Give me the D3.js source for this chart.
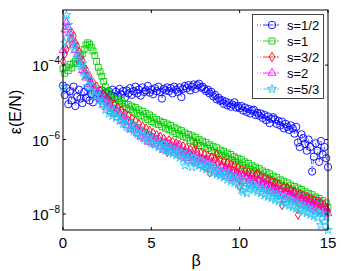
<!DOCTYPE html>
<html>
<head>
<meta charset="UTF-8" />
<script src="https://cdn.jsdelivr.net/npm/d3@7"></script>
<style>
  body { margin: 0; background: #fff; }
  text { font-family: "Liberation Sans", Arial, sans-serif; }
</style>
</head>
<body>
<script>
// beta grid
var beta = [
  0,0.1,0.2,0.3,0.4,0.5,0.6,0.7,0.8,0.9,1,1.1,1.2,1.3,1.4,1.5,1.6,1.7,1.8,1.9,
  2,2.1,2.2,2.3,2.4,2.5,2.6,2.7,2.8,2.9,3,3.1,3.2,3.3,3.4,3.5,3.6,3.7,3.8,3.9,
  4,4.1,4.2,4.3,4.4,4.5,4.6,4.7,4.8,4.9,5,5.1,5.2,5.3,5.4,5.5,5.6,5.7,5.8,5.9,
  6,6.1,6.2,6.3,6.4,6.5,6.6,6.7,6.8,6.9,7,7.1,7.2,7.3,7.4,7.5,7.6,7.7,7.8,7.9,
  8,8.1,8.2,8.3,8.4,8.5,8.6,8.7,8.8,8.9,9,9.1,9.2,9.3,9.4,9.5,9.6,9.7,9.8,9.9,
  10,10.1,10.2,10.3,10.4,10.5,10.6,10.7,10.8,10.9,11,11.1,11.2,11.3,11.4,11.5,11.6,11.7,11.8,11.9,
  12,12.1,12.2,12.3,12.4,12.5,12.6,12.7,12.8,12.9,13,13.1,13.2,13.3,13.4,13.5,13.6,13.7,13.8,13.9,
  14,14.1,14.2,14.3,14.4,14.5,14.6,14.7,14.8,14.9,15
];

// log10 of eps(E/N)
var s_half = [
  -4.55,-4.80,-4.62,-5.05,-4.70,-4.95,-4.58,-5.10,-4.85,-4.66,
  -4.90,-5.02,-4.72,-4.88,-4.60,-4.95,-4.78,-5.00,-4.70,-4.85,
  -4.76,-4.90,-4.68,-4.82,-4.74,-4.95,-4.70,-4.80,-4.66,-4.86,
  -4.72,-4.84,-4.64,-4.78,-4.70,-4.88,-4.68,-4.76,-4.62,-4.80,
  -4.70,-4.58,-4.76,-4.66,-4.82,-4.60,-4.72,-4.68,-4.56,-4.74,
  -4.66,-4.78,-4.62,-4.70,-4.58,-4.72,-4.90,-4.64,-4.68,-4.60,
  -4.70,-4.62,-4.76,-4.58,-4.66,-4.72,-4.60,-4.86,-4.64,-4.56,
  -4.62,-4.54,-4.68,-4.58,-4.52,-4.64,-4.54,-4.50,-4.60,-4.58,
  -4.64,-4.70,-4.66,-4.76,-4.72,-4.84,-4.80,-4.92,-4.88,-4.96,
  -4.94,-5.04,-4.98,-5.08,-5.02,-5.12,-5.06,-5.00,-5.14,-5.10,
  -5.16,-5.10,-5.22,-5.14,-5.26,-5.18,-5.30,-5.22,-5.20,-5.34,
  -5.28,-5.36,-5.30,-5.42,-5.34,-5.48,-5.38,-5.56,-5.44,-5.40,
  -5.46,-5.58,-5.50,-5.62,-5.52,-5.70,-5.58,-5.66,-5.74,-5.62,
  -5.70,-5.84,-5.66,-6.08,-6.20,-5.86,-5.96,-6.12,-6.30,-6.00,
  -6.20,-6.86,-6.46,-6.10,-6.30,-6.60,-6.04,-6.40,-6.20,-6.50,
  -6.74
];
var s_one = [
  -4.10,-4.22,-4.05,-4.15,-3.98,-4.08,-3.95,-3.90,-3.96,-3.84,
  -3.76,-3.70,-3.58,-3.46,-3.40,-3.44,-3.52,-3.62,-3.74,-3.90,
  -4.06,-4.18,-4.30,-4.44,-4.58,-4.70,-4.76,-4.84,-4.88,-4.92,
  -5.00,-4.90,-5.06,-4.96,-5.12,-5.02,-5.16,-5.06,-5.20,-5.10,
  -5.26,-5.14,-5.30,-5.20,-5.36,-5.24,-5.40,-5.30,-5.46,-5.34,
  -5.52,-5.40,-5.56,-5.46,-5.60,-5.50,-5.66,-5.54,-5.70,-5.58,
  -5.74,-5.62,-5.78,-5.68,-5.84,-5.72,-5.88,-5.76,-5.92,-5.82,
  -5.96,-5.86,-6.02,-5.90,-6.06,-5.94,-6.10,-6.00,-6.16,-6.04,
  -6.20,-6.08,-6.24,-6.14,-6.30,-6.18,-6.34,-6.22,-6.38,-6.28,
  -6.42,-6.32,-6.46,-6.36,-6.52,-6.40,-6.56,-6.46,-6.60,-6.50,
  -6.66,-6.54,-6.70,-6.60,-6.76,-6.64,-6.80,-6.70,-6.84,-6.74,
  -6.90,-6.78,-6.94,-6.84,-7.00,-6.88,-7.04,-6.92,-7.08,-6.98,
  -7.14,-7.02,-7.18,-7.08,-7.24,-7.12,-7.28,-7.16,-7.32,-7.22,
  -7.36,-7.26,-7.40,-7.30,-7.46,-7.34,-7.50,-7.40,-7.56,-7.44,
  -7.60,-7.48,-7.64,-7.54,-7.70,-7.58,-7.74,-7.64,-7.80,-7.70,
  -7.82
];
var s_3half = [
  -3.90,-3.70,-3.58,-3.44,-3.30,-3.14,-3.22,-3.40,-3.50,-3.64,
  -3.80,-3.88,-4.08,-4.12,-4.32,-4.30,-4.50,-4.46,-4.66,-4.58,
  -4.76,-4.68,-4.88,-4.80,-5.00,-4.90,-5.10,-4.98,-5.18,-5.06,
  -5.24,-5.14,-5.32,-5.22,-5.40,-5.30,-5.48,-5.36,-5.54,-5.44,
  -5.62,-5.50,-5.70,-5.58,-5.76,-5.64,-5.82,-5.70,-5.88,-5.76,
  -5.94,-5.82,-6.00,-5.88,-6.06,-5.92,-6.10,-5.98,-6.06,-6.34,
  -6.02,-6.18,-6.06,-6.24,-6.10,-6.28,-6.14,-6.32,-6.18,-6.36,
  -6.22,-6.40,-6.26,-6.44,-6.30,-6.12,-6.34,-6.48,-6.36,-6.52,
  -6.40,-6.56,-6.44,-6.88,-6.48,-6.60,-6.52,-6.40,-6.64,-6.56,
  -6.70,-6.58,-6.74,-6.62,-6.80,-6.66,-6.84,-6.70,-6.88,-6.74,
  -7.26,-6.80,-6.96,-6.84,-7.00,-6.88,-7.04,-6.92,-7.08,-6.96,
  -6.92,-7.12,-7.00,-7.18,-7.04,-7.22,-7.08,-7.26,-7.12,-7.30,
  -7.16,-7.34,-7.20,-7.38,-7.76,-7.28,-7.42,-7.30,-7.48,-7.36,
  -7.52,-7.40,-7.58,-8.02,-7.46,-7.62,-7.50,-7.66,-7.54,-7.70,
  -7.58,-7.74,-7.62,-7.80,-7.66,-7.90,-7.70,-7.84,-7.76,-7.88,
  -7.92
];
var s_two = [
  -3.60,-3.05,-2.85,-2.98,-3.15,-3.30,-3.46,-3.60,-3.72,-3.86,
  -3.92,-4.14,-4.16,-4.34,-4.30,-4.52,-4.48,-4.70,-4.60,-4.82,
  -4.72,-4.90,-4.84,-5.06,-4.94,-5.14,-5.02,-5.24,-5.18,-5.30,
  -5.18,-5.40,-5.30,-5.48,-5.52,-5.38,-5.62,-5.50,-5.72,-5.58,
  -5.74,-5.66,-5.84,-5.70,-5.92,-5.80,-5.98,-5.86,-6.06,-5.90,
  -6.08,-5.94,-6.14,-6.00,-5.96,-6.20,-6.06,-6.28,-6.10,-6.22,
  -6.12,-6.30,-6.18,-6.36,-6.22,-6.14,-6.42,-6.28,-6.46,-6.30,
  -6.50,-6.34,-6.42,-6.58,-6.40,-6.62,-6.44,-6.56,-6.70,-6.50,
  -6.58,-6.74,-6.54,-6.80,-6.62,-6.70,-6.86,-6.64,-6.78,-6.92,
  -6.72,-6.88,-6.80,-6.98,-6.76,-6.94,-7.04,-6.86,-7.00,-6.90,
  -7.06,-6.92,-7.12,-7.00,-7.18,-6.98,-7.10,-7.24,-7.04,-7.16,
  -7.22,-7.08,-7.28,-7.14,-7.34,-7.20,-7.12,-7.38,-7.26,-7.40,
  -7.30,-7.44,-7.36,-7.52,-7.34,-7.48,-7.62,-7.40,-7.56,-7.46,
  -7.60,-7.48,-7.66,-7.54,-7.72,-7.58,-7.50,-7.76,-7.64,-7.80,
  -7.68,-7.84,-7.72,-7.90,-7.76,-7.66,-7.94,-7.82,-8.00,-7.86,
  -7.98
];
var s_5third = [
  -4.60,-3.40,-2.66,-2.92,-3.20,-3.36,-3.58,-3.50,-3.80,-3.74,
  -4.02,-3.96,-4.30,-4.22,-4.56,-4.40,-4.70,-4.58,-4.84,-4.70,
  -4.96,-4.84,-5.06,-4.98,-5.20,-5.06,-5.30,-5.14,-5.36,-5.24,
  -5.42,-5.30,-5.50,-5.38,-5.58,-5.46,-5.66,-5.52,-5.72,-5.60,
  -5.78,-5.66,-5.86,-5.72,-5.92,-5.80,-5.98,-5.86,-6.04,-5.92,
  -6.10,-5.98,-6.14,-6.04,-6.20,-6.08,-6.26,-6.12,-6.30,-6.18,
  -6.34,-6.22,-6.38,-6.26,-6.42,-6.30,-6.48,-6.34,-6.52,-6.70,
  -6.40,-6.56,-6.44,-6.74,-6.50,-6.64,-6.54,-6.70,-6.58,-6.76,
  -6.62,-6.80,-6.68,-6.86,-6.72,-6.90,-6.76,-6.94,-6.80,-6.98,
  -6.86,-7.02,-6.90,-7.08,-6.94,-7.12,-6.98,-7.16,-7.02,-7.20,
  -7.06,-7.36,-7.40,-7.12,-7.44,-7.18,-7.30,-7.20,-7.36,-7.24,
  -7.40,-7.28,-7.44,-7.32,-7.50,-7.36,-7.54,-7.40,-7.58,-7.44,
  -7.62,-7.48,-7.66,-7.52,-7.70,-7.56,-7.74,-7.60,-7.78,-7.64,
  -7.82,-7.68,-7.86,-7.72,-7.90,-7.76,-7.94,-7.80,-7.98,-7.84,
  -8.02,-7.88,-8.06,-7.92,-8.10,-7.96,-8.30,-8.00,-8.20,-8.08,
  -8.43
];

var labels = ["s=1/2", "s=1", "s=3/2", "s=2", "s=5/3"];
var xTicks = [0, 5, 10, 15];
var yTicks = [-8, -6, -4];

var series = [
  { name: labels[0], vals: s_half, color: "#0000ff", sym: d3.symbolCircle, size: 42 },
  { name: labels[1], vals: s_one, color: "#00cc00", sym: d3.symbolSquare, size: 34 },
  { name: labels[2], vals: s_3half, color: "#ff0000", sym: d3.symbolDiamond, size: 24 },
  { name: labels[3], vals: s_two, color: "#ff00ff", sym: d3.symbolTriangle, size: 26 },
  { name: labels[4], vals: s_5third, color: "#22c4f4", sym: d3.symbolStar, size: 24 }
];

var W = 341, H = 271;
var mL = 63, mR = 328, mT = 10, mB = 230;

var svg = d3.select("body").append("svg").attr("width", W).attr("height", H);

var x = d3.scaleLinear().domain([0, 15]).range([mL, mR]);
var y = d3.scaleLog().domain([Math.pow(10, -8.43), Math.pow(10, -2.52)]).range([mB, mT]);

var line = d3.line()
  .x(function (d, i) { return x(beta[i]); })
  .y(function (d) { return y(Math.pow(10, d)); });

series.forEach(function (s) {
  var g = svg.append("g");
  g.append("path")
    .attr("d", line(s.vals))
    .attr("fill", "none")
    .attr("stroke", s.color)
    .attr("stroke-width", 0.6)
    .attr("stroke-dasharray", "5,2,1,2");
  g.selectAll("path.m").data(s.vals).enter().append("path")
    .attr("class", "m")
    .attr("d", d3.symbol().type(s.sym).size(s.size))
    .attr("transform", function (d, i) {
      return "translate(" + x(beta[i]) + "," + y(Math.pow(10, d)) + ")";
    })
    .attr("fill", "none")
    .attr("stroke", s.color)
    .attr("stroke-width", 0.9);
});

// box
svg.append("rect")
  .attr("x", mL).attr("y", mT)
  .attr("width", mR - mL).attr("height", mB - mT)
  .attr("fill", "none").attr("stroke", "#000").attr("stroke-width", 1);

// ticks
xTicks.forEach(function (t) {
  svg.append("line").attr("x1", x(t)).attr("x2", x(t)).attr("y1", mB).attr("y2", mB - 3).attr("stroke", "#000");
  svg.append("line").attr("x1", x(t)).attr("x2", x(t)).attr("y1", mT).attr("y2", mT + 3).attr("stroke", "#000");
  svg.append("text").attr("x", x(t)).attr("y", 248).attr("text-anchor", "middle")
    .attr("font-size", 15).text(t);
});
yTicks.forEach(function (t) {
  var yy = y(Math.pow(10, t));
  svg.append("line").attr("x1", mL).attr("x2", mL + 3).attr("y1", yy).attr("y2", yy).attr("stroke", "#000");
  svg.append("line").attr("x1", mR).attr("x2", mR - 3).attr("y1", yy).attr("y2", yy).attr("stroke", "#000");
  var tx = svg.append("text").attr("x", 32).attr("y", yy + 6).attr("font-size", 15);
  tx.append("tspan").text("10");
  tx.append("tspan").attr("font-size", 10).attr("dy", -7).text("\u2212" + (-t));
});

// axis labels
svg.append("text").attr("x", 196).attr("y", 266).attr("text-anchor", "middle")
  .attr("font-size", 16).text("\u03b2");
svg.append("text").attr("transform", "translate(21,112) rotate(-90)")
  .attr("text-anchor", "middle").attr("font-size", 16).text("\u03b5(E/N)");

// legend
var lg = svg.append("g");
lg.append("rect").attr("x", 252.5).attr("y", 14.5).attr("width", 71).attr("height", 84)
  .attr("fill", "#fff").attr("stroke", "#444").attr("stroke-width", 1);
series.forEach(function (s, i) {
  var ly = 25 + i * 16;
  lg.append("line").attr("x1", 257).attr("x2", 285).attr("y1", ly).attr("y2", ly)
    .attr("stroke", s.color).attr("stroke-width", 0.8).attr("stroke-dasharray", "1,2,1,2,10");
  lg.append("path").attr("d", d3.symbol().type(s.sym).size(s.size * 1.05))
    .attr("transform", "translate(272," + ly + ")")
    .attr("fill", "none").attr("stroke", s.color).attr("stroke-width", 0.9);
  lg.append("text").attr("x", 287).attr("y", ly + 4.5).attr("font-size", 13).text(s.name);
});
</script>
</body>
</html>
